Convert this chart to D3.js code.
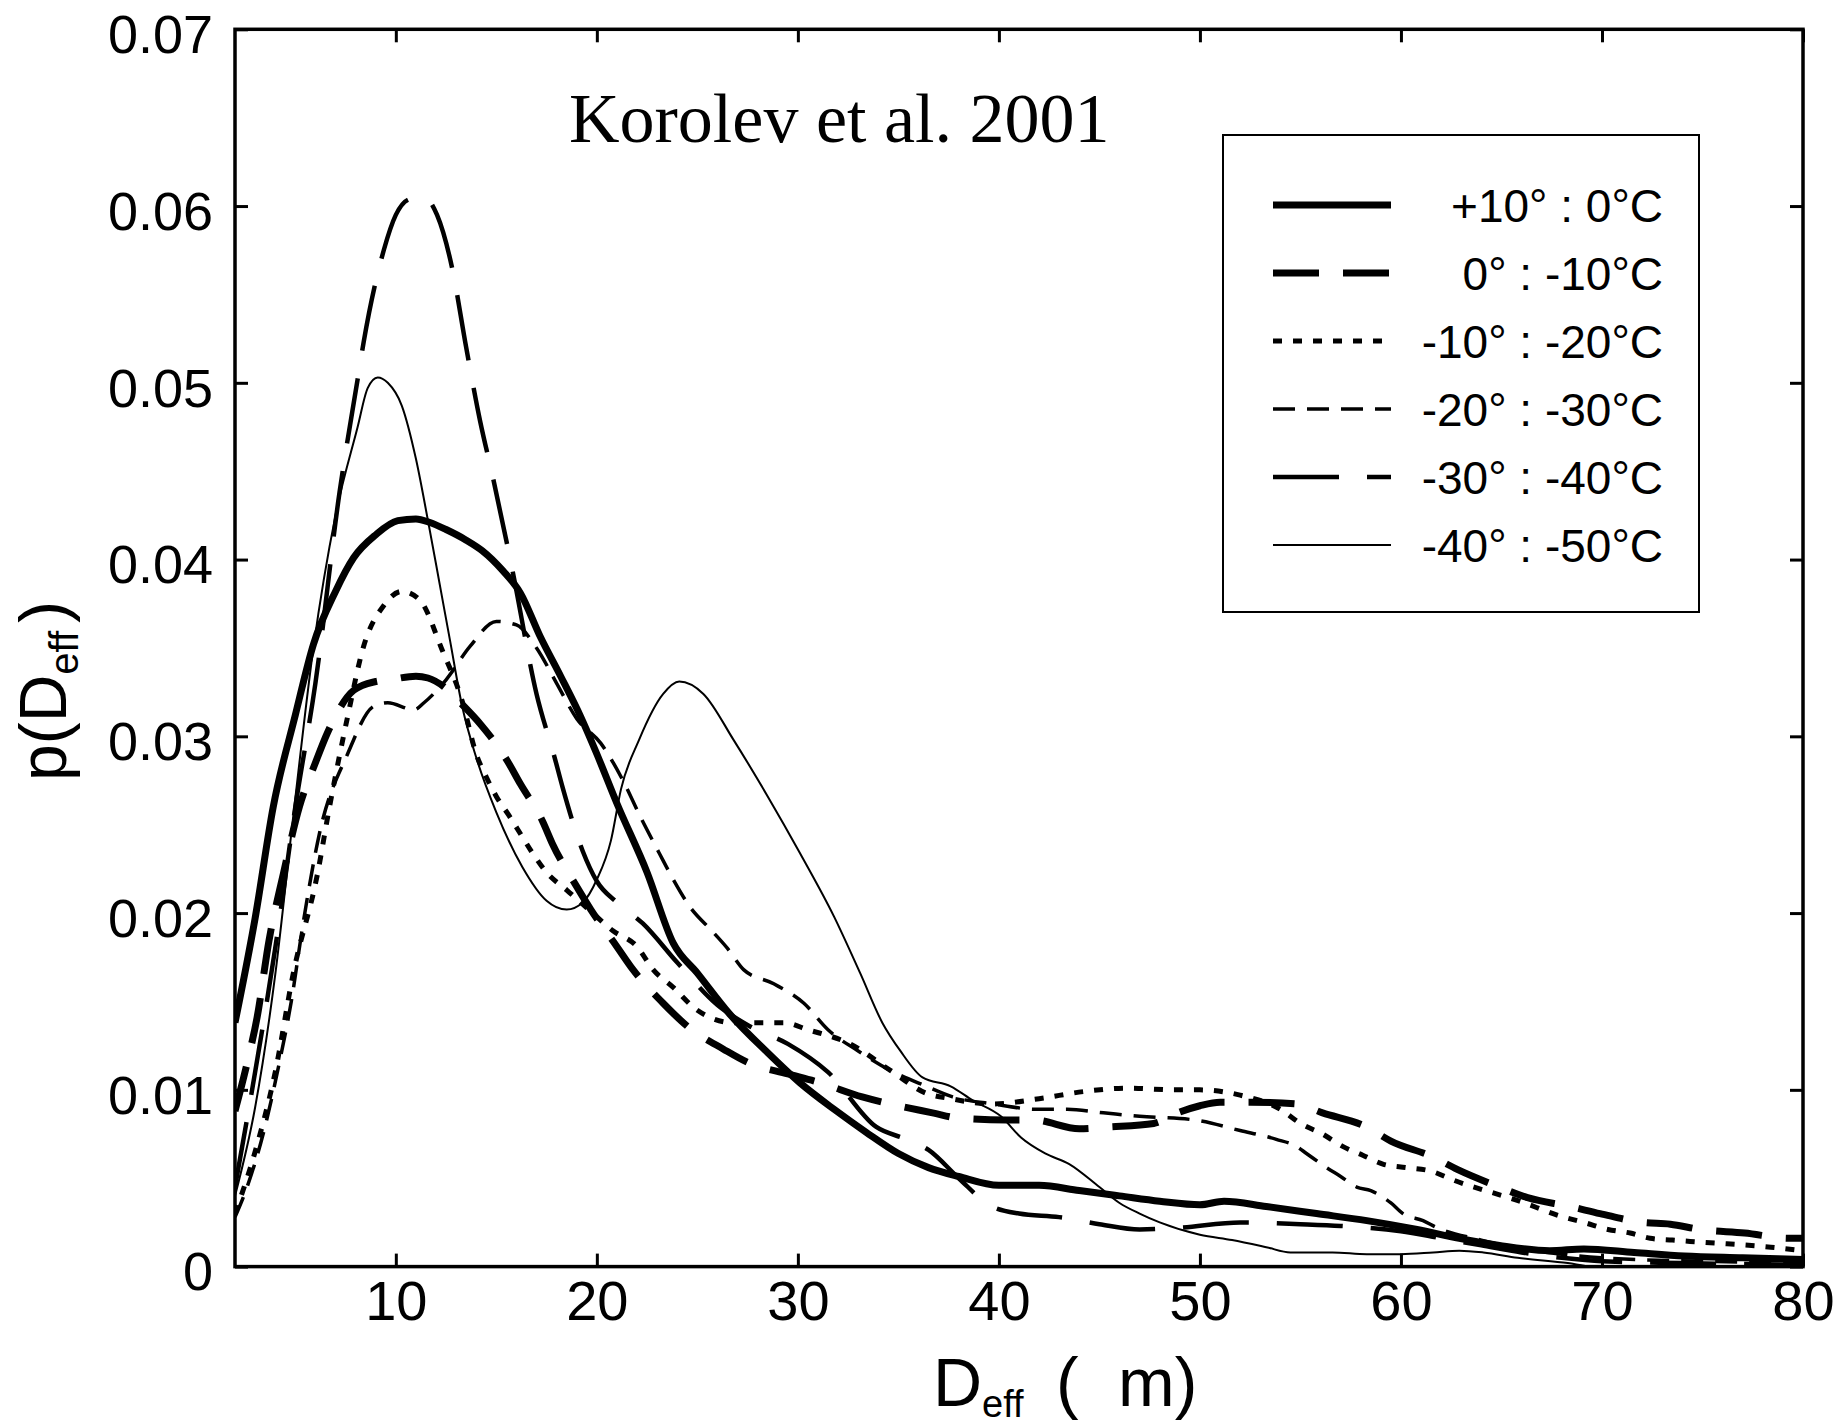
<!DOCTYPE html>
<html lang="en">
<head>
<meta charset="UTF-8">
<title>Korolev et al. 2001</title>
<script src="https://d3js.org/d3.v7.min.js"></script>
<style>
    body { margin: 0; background: #fff; }
    svg { display: block; background: #fff; }
    .axis text { font-family: "Liberation Sans", Arial, sans-serif; font-size: 54px; fill: #000; }
    .axis line { stroke: #000; stroke-width: 3px; }
    .axis path { display: none; }
    .lbl { font-family: "Liberation Sans", Arial, sans-serif; fill: #000; }
    .legend text { font-family: "Liberation Sans", Arial, sans-serif; font-size: 46px; fill: #000; }
    .title { font-family: "Liberation Serif", "Times New Roman", serif; font-size: 70px; fill: #000; }
</style>
</head>
<body>
<svg width="1839" height="1426"></svg>
<script>
// tick values
const xTicks = [10, 20, 30, 40, 50, 60, 70, 80];
const yTicks = [0, 0.01, 0.02, 0.03, 0.04, 0.05, 0.06, 0.07];

const seriesNames = ["+10\u00b0 : 0\u00b0C", "0\u00b0 : -10\u00b0C", "-10\u00b0 : -20\u00b0C",
                     "-20\u00b0 : -30\u00b0C", "-30\u00b0 : -40\u00b0C", "-40\u00b0 : -50\u00b0C"];

// +10 : 0
const d1 = [2, 3, 3.9, 5, 5.9, 7, 7.9, 9, 10.1, 11, 11.7, 12.5, 13.5, 14.3, 15.3, 16.2, 17.2, 18.2, 19.2, 20, 21, 22.5, 23.8, 25, 26.6, 28.5, 30.1, 31.8, 33.4, 35, 36.5, 38, 40, 42, 44, 46, 48, 50, 51.2, 53.3, 55.8, 58.3, 60.8, 62.9, 64.9, 67.4, 69.1, 71.6, 74.1, 77, 80];
const p1 = [0.0138, 0.0197, 0.026, 0.0312, 0.0352, 0.0382, 0.0401, 0.0414, 0.0422, 0.0423, 0.0421, 0.0417, 0.0411, 0.0405, 0.0394, 0.0381, 0.0356, 0.0334, 0.0311, 0.029, 0.0262, 0.0223, 0.0183, 0.0166, 0.0143, 0.0121, 0.0104, 0.0089, 0.0076, 0.0064, 0.0056, 0.0051, 0.0046, 0.0046, 0.0043, 0.004, 0.0037, 0.0035, 0.0037, 0.0034, 0.003, 0.0026, 0.0021, 0.0016, 0.0012, 0.0009, 0.001, 0.0008, 0.0006, 0.0005, 0.0004];

// 0 : -10
const d2 = [2, 2.6, 3.1, 3.7, 4.4, 5.2, 6, 6.6, 7.9, 9, 9.7, 11, 11.6, 12.4, 13.3, 14.2, 15.5, 16.2, 17.3, 17.8, 19, 19.7, 21, 21.8, 23.3, 24.5, 26.3, 27.6, 29.5, 31.1, 33.2, 34.6, 36.7, 38, 40.4, 41.7, 44, 45.4, 47.7, 48.9, 50, 51, 52.5, 54.8, 56.1, 58.3, 59.5, 61.6, 62.8, 64.9, 66.3, 68.4, 69.9, 72, 73.4, 74.9, 77.1, 79.3, 80];
const p2 = [0.0088, 0.0115, 0.0141, 0.0185, 0.0222, 0.026, 0.0285, 0.0302, 0.0326, 0.0331, 0.0332, 0.0334, 0.0333, 0.0328, 0.0318, 0.0307, 0.0287, 0.0273, 0.0252, 0.0239, 0.0215, 0.0202, 0.0181, 0.0168, 0.0149, 0.0136, 0.0123, 0.0115, 0.0109, 0.0104, 0.0096, 0.0092, 0.0087, 0.0084, 0.0083, 0.0083, 0.0078, 0.0079, 0.0081, 0.0087, 0.0091, 0.0093, 0.0093, 0.0092, 0.0087, 0.0079, 0.0071, 0.0062, 0.0055, 0.0045, 0.0039, 0.0034, 0.003, 0.0025, 0.0024, 0.0021, 0.0019, 0.0016, 0.0016];

// -10 : -20
const d3v = [2, 3, 4, 4.9, 6.1, 6.7, 7.6, 8.4, 9.4, 10.3, 11.2, 12.3, 13.3, 14, 14.5, 15, 15.7, 16.3, 16.8, 17.5, 18.5, 19.5, 20.8, 22, 22.8, 23.8, 25, 26.8, 29.3, 30.5, 32.6, 34.6, 36.4, 37.6, 39.6, 42, 44.2, 46.4, 48.7, 50, 52, 54, 55, 56.1, 57.1, 58.1, 59.1, 60.3, 61.5, 62.6, 65.9, 68.1, 69.1, 70.3, 71.4, 72.4, 73.5, 74.7, 78.4, 80];
const p3 = [0.003, 0.0065, 0.011, 0.0166, 0.0222, 0.026, 0.0311, 0.0351, 0.0374, 0.0382, 0.0377, 0.0349, 0.032, 0.029, 0.0277, 0.0266, 0.0254, 0.0243, 0.0234, 0.0223, 0.0213, 0.0203, 0.019, 0.0181, 0.0168, 0.0158, 0.0145, 0.0138, 0.0138, 0.0134, 0.0126, 0.0111, 0.0098, 0.0095, 0.0092, 0.0095, 0.0099, 0.0101, 0.01, 0.01, 0.0097, 0.0089, 0.0081, 0.0075, 0.0068, 0.0063, 0.0058, 0.0056, 0.0054, 0.0049, 0.0037, 0.0028, 0.0025, 0.0021, 0.0019, 0.0016, 0.0015, 0.0014, 0.0011, 0.0009];

// -20 : -30
const d4 = [2, 2.6, 3.4, 4.2, 4.8, 5.4, 6.2, 7.6, 8.9, 9.6, 10.9, 11.4, 12.5, 13.7, 15, 16, 17, 18, 19, 20.2, 21.3, 22.1, 23.1, 23.8, 24.6, 25.8, 26.5, 27.3, 28.8, 30.3, 31.5, 33, 34.6, 36.4, 37.7, 39.7, 41.9, 43.4, 45.2, 47, 49.7, 52, 53.8, 54.8, 55.3, 56.3, 57, 57.8, 58.5, 59.5, 60.1, 61.1, 61.8, 64, 66, 68, 70, 75, 80];
const p4 = [0.0028, 0.0045, 0.0075, 0.0115, 0.015, 0.0195, 0.0245, 0.029, 0.0317, 0.0319, 0.0315, 0.0319, 0.0332, 0.0351, 0.0365, 0.0363, 0.035, 0.033, 0.031, 0.0296, 0.0275, 0.0256, 0.0234, 0.0219, 0.0204, 0.0189, 0.0180, 0.0168, 0.016, 0.0149, 0.0134, 0.0122, 0.0111, 0.0102, 0.0096, 0.0092, 0.0089, 0.0089, 0.0087, 0.0085, 0.0083, 0.0077, 0.0072, 0.0068, 0.0064, 0.0056, 0.0051, 0.0045, 0.0043, 0.0036, 0.003, 0.0026, 0.0022, 0.0015, 0.001, 0.0007, 0.0005, 0.0003, 0.0002];

// -30 : -40
const d5 = [2, 3, 4, 5, 6, 7.2, 8.1, 8.4, 9.4, 10, 10.7, 11.4, 12.05, 12.8, 13.5, 14.2, 14.8, 15.8, 17, 17.9, 18.3, 19.3, 20, 21, 22.3, 24, 26, 27.6, 29.5, 31.5, 33.9, 35.4, 36.5, 38, 39.5, 41, 43, 45, 47, 49, 52, 55, 57, 60, 62, 64, 66, 68, 70, 74, 80];
const p5 = [0.0045, 0.011, 0.018, 0.026, 0.033, 0.0438, 0.0502, 0.0523, 0.0575, 0.0595, 0.0604, 0.0605, 0.0595, 0.0565, 0.052, 0.0478, 0.0448, 0.0394, 0.0324, 0.0288, 0.0271, 0.0235, 0.0218, 0.0206, 0.0194, 0.0172, 0.0148, 0.0136, 0.0126, 0.011, 0.0079, 0.0072, 0.0066, 0.005, 0.0035, 0.003, 0.0028, 0.0024, 0.0021, 0.0022, 0.0025, 0.0024, 0.0023, 0.002, 0.0016, 0.0012, 0.0008, 0.0005, 0.0003, 0.0002, 0.0001];

// -40 : -50
const d6 = [2, 3, 4, 4.9, 5.9, 7, 8.1, 8.6, 9.1, 9.6, 10.3, 11, 11.6, 12.2, 12.7, 13.3, 14, 15, 16.3, 17.5, 18.5, 19.3, 20, 20.7, 21.2, 22.1, 23.3, 24.1, 25.3, 26.8, 28.5, 30.1, 31.8, 33.1, 34.2, 35.1, 36.2, 37.6, 38.7, 40.1, 41.1, 42.3, 43.5, 45, 46, 47, 48, 50, 51.6, 53.3, 54.5, 56.6, 58.3, 60, 61.6, 62.9, 64.1, 65.8, 68.3, 69.5, 80];
const p6 = [0.004, 0.009, 0.0165, 0.0255, 0.035, 0.0425, 0.0475, 0.0497, 0.0503, 0.05, 0.0487, 0.0457, 0.0422, 0.0385, 0.0354, 0.0317, 0.0288, 0.0257, 0.0226, 0.0207, 0.0202, 0.0206, 0.0219, 0.0241, 0.027, 0.0298, 0.0324, 0.0331, 0.0324, 0.0298, 0.0266, 0.0234, 0.0198, 0.0166, 0.0138, 0.0122, 0.0107, 0.0102, 0.0094, 0.0085, 0.0073, 0.0064, 0.0058, 0.0045, 0.0036, 0.003, 0.0025, 0.0018, 0.0015, 0.0011, 0.0008, 0.0008, 0.0007, 0.0007, 0.0008, 0.0009, 0.0008, 0.0005, 0.0002, 0, 0];

const series = [[d1, p1], [d2, p2], [d3v, p3], [d4, p4], [d5, p5], [d6, p6]];

// line looks, same order as seriesNames
const looks = [
    { w: 7, dash: null },
    { w: 7, dash: "46,24" },
    { w: 5, dash: "9,11" },
    { w: 3.5, dash: "22,12" },
    { w: 4.5, dash: "66,28" },
    { w: 2, dash: null }
];

const margin = { top: 29.3, right: 36, bottom: 159.4, left: 235 };
const width = 1839, height = 1426;
const svg = d3.select("svg");

const x = d3.scaleLinear().domain([2, 80]).range([margin.left, width - margin.right]);
const y = d3.scaleLinear().domain([0, 0.07]).range([height - margin.bottom, margin.top]);

svg.append("clipPath").attr("id", "plotclip")
    .append("rect")
    .attr("x", x(2)).attr("y", y(0.07))
    .attr("width", x(80) - x(2)).attr("height", y(0) - y(0.07));

// curves
const line = d3.line()
    .x(d => x(d[0]))
    .y(d => y(d[1]))
    .curve(d3.curveMonotoneX);

const curves = svg.append("g").attr("clip-path", "url(#plotclip)");
series.forEach((s, i) => {
    const pts = s[0].map((v, k) => [v, s[1][k]]);
    curves.append("path")
        .attr("d", line(pts))
        .attr("fill", "none")
        .attr("stroke", "#000")
        .attr("stroke-width", looks[i].w)
        .attr("stroke-dasharray", looks[i].dash)
        .attr("stroke-linejoin", "round");
});

// axes, ticks point inward on all four sides
const tickLen = 13;
const fmtY = d => d === 0 ? "0" : d.toFixed(2);

svg.append("g").attr("class", "axis")
    .attr("transform", `translate(0,${y(0)})`)
    .call(d3.axisBottom(x).tickValues(xTicks).tickSize(-tickLen).tickPadding(14))
    .selectAll("text").style("font-size", "56px");

svg.append("g").attr("class", "axis")
    .attr("transform", `translate(0,${y(0.07)})`)
    .call(d3.axisTop(x).tickValues(xTicks).tickSize(-tickLen).tickFormat(""));

svg.append("g").attr("class", "axis")
    .attr("transform", `translate(${x(2)},0)`)
    .call(d3.axisLeft(y).tickValues(yTicks).tickSize(-tickLen).tickPadding(22).tickFormat(fmtY))
    .selectAll("text").attr("dy", "0.43em");

svg.append("g").attr("class", "axis")
    .attr("transform", `translate(${x(80)},0)`)
    .call(d3.axisRight(y).tickValues(yTicks).tickSize(-tickLen).tickFormat(""));

svg.append("rect")
    .attr("x", x(2)).attr("y", y(0.07))
    .attr("width", x(80) - x(2)).attr("height", y(0) - y(0.07))
    .attr("fill", "none").attr("stroke", "#000").attr("stroke-width", 3.5);

// title
svg.append("text").attr("class", "title")
    .attr("x", 569).attr("y", 142)
    .text("Korolev et al. 2001");

// x label
const xl = svg.append("text").attr("class", "lbl").attr("y", 1406).style("font-size", "68px");
xl.append("tspan").attr("x", 933).text("D");
xl.append("tspan").attr("dy", 11).style("font-size", "38px").text("eff");
xl.append("tspan").attr("x", 1056).attr("dy", -11).text("(");
xl.append("tspan").attr("x", 1118).text("m)");

// y label
const yl = svg.append("text").attr("class", "lbl")
    .attr("transform", "translate(66,691) rotate(-90)")
    .attr("text-anchor", "middle")
    .style("font-size", "66px");
yl.append("tspan").text("p(D");
yl.append("tspan").attr("dy", 12).style("font-size", "40px").text("eff");
yl.append("tspan").attr("dy", -12).attr("dx", 8).text(")");

// legend
const legBox = { x: 1223, y: 135, w: 476, h: 477 };
const legend = svg.append("g").attr("class", "legend");
legend.append("rect")
    .attr("x", legBox.x).attr("y", legBox.y)
    .attr("width", legBox.w).attr("height", legBox.h)
    .attr("fill", "#fff").attr("stroke", "#000").attr("stroke-width", 2);

const rowY = d3.scalePoint().domain(seriesNames).range([205, 545]);
const rows = legend.selectAll("g.row").data(seriesNames).enter().append("g")
    .attr("class", "row")
    .attr("transform", d => `translate(0,${rowY(d)})`);

rows.append("line")
    .attr("x1", 1273).attr("x2", 1391)
    .attr("stroke", "#000")
    .attr("stroke-width", (d, i) => looks[i].w)
    .attr("stroke-dasharray", (d, i) => looks[i].dash);

rows.append("text")
    .attr("x", 1663).attr("dy", "0.36em")
    .attr("text-anchor", "end")
    .text(d => d);
</script>
</body>
</html>
